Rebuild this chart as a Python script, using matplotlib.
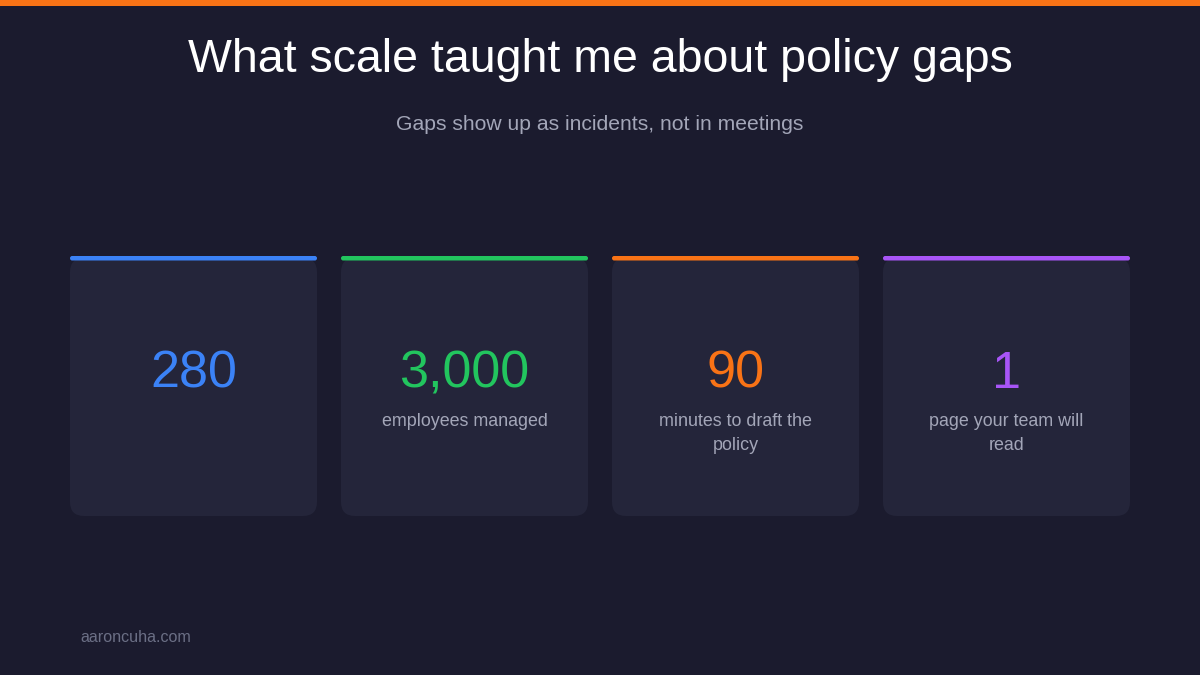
import matplotlib
matplotlib.use("Agg")
import matplotlib.pyplot as plt
from matplotlib.patches import FancyBboxPatch, Rectangle

title = "What scale taught me about policy gaps"
subtitle = "Gaps show up as incidents, not in meetings"
values = ["280", "3,000", "90", "1"]
labels = ["", "employees managed", "minutes to draft the\npolicy", "page your team will\nread"]
colors = ["#3b82f6", "#22c55e", "#f97316", "#a855f7"]
footer = "aaroncuha.com"

BG = "#1b1b2e"
CARD = "#24253a"

fig = plt.figure(figsize=(12, 6.75), dpi=100, facecolor=BG)
ax = fig.add_axes([0, 0, 1, 1])
ax.set_xlim(0, 1200)
ax.set_ylim(675, 0)
ax.axis("off")
ax.set_facecolor(BG)

ax.add_patch(Rectangle((0, 0), 1200, 5.5, color="#f97316", lw=0))
ax.text(600, 60, title, color="white", fontsize=33.5, ha="center", va="center", family="Liberation Sans")
ax.text(600, 125, subtitle, color="#a3a6b8", fontsize=15.2, ha="center", va="center", family="Liberation Sans")

x0, w, gap = 70, 247, 24
top, bottom = 258, 516
for i, (v, lab, c) in enumerate(zip(values, labels, colors)):
    x = x0 + i * (w + gap)
    ax.add_patch(FancyBboxPatch((x, top), w, bottom - top,
                                boxstyle="round,pad=0,rounding_size=14",
                                fc=CARD, ec="none"))
    ax.add_patch(FancyBboxPatch((x, top - 2), w, 4.5,
                                boxstyle="round,pad=0,rounding_size=2.2",
                                fc=c, ec="none"))
    cx = x + w / 2
    ax.text(cx, 374, v, color=c, fontsize=37.5, ha="center", va="center", family="Liberation Sans")
    if lab:
        ax.text(cx, 413, lab, color="#a3a6b8", fontsize=12.9, ha="center", va="top",
                family="Liberation Sans", linespacing=1.55)

ax.text(80, 637, footer, color="#6b6f85", fontsize=11.6, ha="left", va="center", family="Liberation Sans")

fig.savefig("out.png", dpi=100, facecolor=BG)
